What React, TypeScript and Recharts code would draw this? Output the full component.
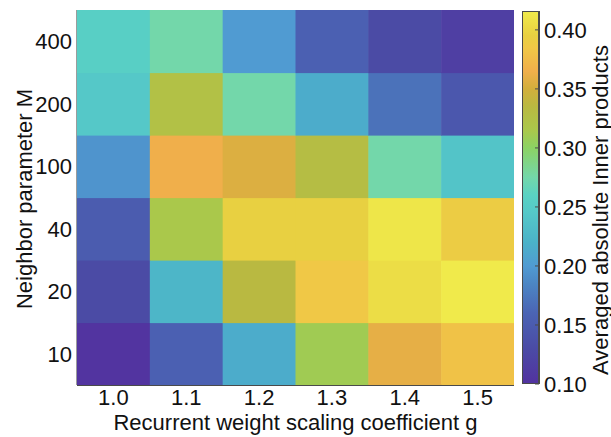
import React from "react";
import {
  ScatterChart,
  Scatter,
  XAxis,
  YAxis,
  BarChart,
  Bar,
} from "recharts";

// g values along the x axis
const gValues = [1.0, 1.1, 1.2, 1.3, 1.4, 1.5];
// neighbor parameter M, bottom row first
const mLabels = ["10", "20", "40", "100", "200", "400"];

// averaged absolute inner products, one array per M row (g = 1.0 .. 1.5)
const innerM10 = [0.102, 0.155, 0.215, 0.31, 0.36, 0.38];
const innerM20 = [0.13, 0.225, 0.335, 0.385, 0.405, 0.415];
const innerM40 = [0.15, 0.315, 0.395, 0.395, 0.412, 0.39];
const innerM100 = [0.195, 0.365, 0.355, 0.33, 0.275, 0.24];
const innerM200 = [0.245, 0.325, 0.275, 0.215, 0.17, 0.145];
const innerM400 = [0.255, 0.275, 0.2, 0.155, 0.13, 0.115];

const colorTicks = [0.1, 0.15, 0.2, 0.25, 0.3, 0.35, 0.4];
const COLOR_MIN = 0.1;
const COLOR_MAX = 0.416;

// parula-like colormap as seen in the figure
const COLORMAP: [number, string][] = [
  [0.1, "#5232a0"],
  [0.13, "#4b4ba5"],
  [0.16, "#4b64b4"],
  [0.185, "#4c86c4"],
  [0.2, "#509bd2"],
  [0.22, "#4bb2c8"],
  [0.245, "#55c8c8"],
  [0.26, "#5ad2c3"],
  [0.275, "#73d7aa"],
  [0.3, "#8cd264"],
  [0.315, "#aac84b"],
  [0.335, "#b9b941"],
  [0.35, "#d2af3c"],
  [0.365, "#f0af4b"],
  [0.385, "#f0c846"],
  [0.395, "#e8d041"],
  [0.416, "#f0eb4b"],
];

const FONT = "'Liberation Sans', Arial, sans-serif";
const FONT_SIZE = 22;
const AXIS_COLOR = "#4a4a4a";

const W = 611;
const H = 437;
const PLOT_LEFT = 77;
const PLOT_RIGHT = 514;
const PLOT_TOP = 10;
const PLOT_BOTTOM = 385;
const CELL_W = (PLOT_RIGHT - PLOT_LEFT) / gValues.length;
const CELL_H = (PLOT_BOTTOM - PLOT_TOP) / mLabels.length;

function hexToRgb(h: string) {
  const n = parseInt(h.slice(1), 16);
  return [(n >> 16) & 255, (n >> 8) & 255, n & 255];
}

function colorFor(v: number) {
  if (v <= COLORMAP[0][0]) return COLORMAP[0][1];
  for (let i = 1; i < COLORMAP.length; i++) {
    const [v1, c1] = COLORMAP[i];
    const [v0, c0] = COLORMAP[i - 1];
    if (v <= v1) {
      const t = (v - v0) / (v1 - v0);
      const a = hexToRgb(c0);
      const b = hexToRgb(c1);
      const m = a.map((x, k) => Math.round(x + (b[k] - x) * t));
      return `rgb(${m[0]},${m[1]},${m[2]})`;
    }
  }
  return COLORMAP[COLORMAP.length - 1][1];
}

const rows = [innerM10, innerM20, innerM40, innerM100, innerM200, innerM400];
const cells = rows.flatMap((row, mi) =>
  row.map((v, gi) => ({ g: gValues[gi], m: mi, v }))
);

const HeatCell = (props: any) => {
  const { cx, cy, payload } = props;
  return (
    <rect
      x={cx - CELL_W / 2}
      y={cy - CELL_H / 2}
      width={CELL_W + 0.6}
      height={CELL_H + 0.6}
      fill={colorFor(payload.v)}
    />
  );
};

const textStyle = { fontSize: FONT_SIZE, fill: "#111", fontFamily: FONT };

export default function App() {
  return (
    <div style={{ position: "absolute", left: 0, top: 0, width: W, height: H, background: "#fff" }}>
      <div style={{ position: "absolute", left: 0, top: 0 }}>
        <ScatterChart
          width={W}
          height={H}
          margin={{ top: PLOT_TOP, right: W - PLOT_RIGHT, bottom: 0, left: 0 }}
        >
          <XAxis
            type="number"
            dataKey="g"
            domain={[0.95, 1.55]}
            ticks={gValues}
            tickFormatter={(v: number) => v.toFixed(1)}
            height={H - PLOT_BOTTOM}
            tickSize={-5}
            tickMargin={9}
            tick={textStyle}
            axisLine={{ stroke: AXIS_COLOR, strokeWidth: 2 }}
            tickLine={{ stroke: AXIS_COLOR }}
            allowDataOverflow
            label={{
              value: "Recurrent weight scaling coefficient g",
              position: "insideBottom",
              offset: 7,
              style: textStyle,
            }}
          />
          <YAxis
            type="number"
            dataKey="m"
            domain={[-0.5, 5.5]}
            ticks={[0, 1, 2, 3, 4, 5]}
            tickFormatter={(i: number) => mLabels[i]}
            width={PLOT_LEFT}
            tickSize={-5}
            tickMargin={10}
            tick={textStyle}
            axisLine={{ stroke: "#5a5a5a", strokeWidth: 1.2 }}
            tickLine={{ stroke: AXIS_COLOR }}
            allowDataOverflow
            label={{
              content: () => (
                <text
                  x={24}
                  y={199}
                  transform="rotate(-90 24 199)"
                  textAnchor="middle"
                  dominantBaseline="central"
                  style={textStyle}
                >
                  Neighbor parameter M
                </text>
              ),
            }}
          />
          <Scatter data={cells} shape={HeatCell} isAnimationActive={false} />
        </ScatterChart>
      </div>
      <div style={{ position: "absolute", left: 522, top: 0 }}>
        <BarChart
          width={W - 522}
          height={H}
          data={[{ name: "cbar", top: COLOR_MAX }]}
          margin={{ top: 11, right: 0, bottom: H - 384, left: 0 }}
          barCategoryGap={0}
        >
          <defs>
            <linearGradient id="parula" x1="0" y1="1" x2="0" y2="0">
              {COLORMAP.map(([v, c]) => (
                <stop
                  key={v}
                  offset={`${((v - COLOR_MIN) / (COLOR_MAX - COLOR_MIN)) * 100}%`}
                  stopColor={c}
                />
              ))}
            </linearGradient>
          </defs>
          <XAxis dataKey="name" hide />
          <YAxis
            orientation="right"
            type="number"
            domain={[COLOR_MIN, COLOR_MAX]}
            ticks={colorTicks}
            tickFormatter={(v: number) => v.toFixed(2)}
            width={W - 522 - 17}
            tickSize={-4}
            tickMargin={9}
            tick={textStyle}
            axisLine={false}
            tickLine={{ stroke: AXIS_COLOR }}
            allowDataOverflow
            label={{
              content: () => (
                <text
                  x={78}
                  y={210}
                  transform="rotate(-90 78 210)"
                  textAnchor="middle"
                  dominantBaseline="central"
                  style={textStyle}
                >
                  Averaged absolute Inner products
                </text>
              ),
            }}
          />
          <Bar
            dataKey="top"
            fill="url(#parula)"
            stroke={AXIS_COLOR}
            strokeWidth={2}
            isAnimationActive={false}
          />
        </BarChart>
      </div>
    </div>
  );
}
